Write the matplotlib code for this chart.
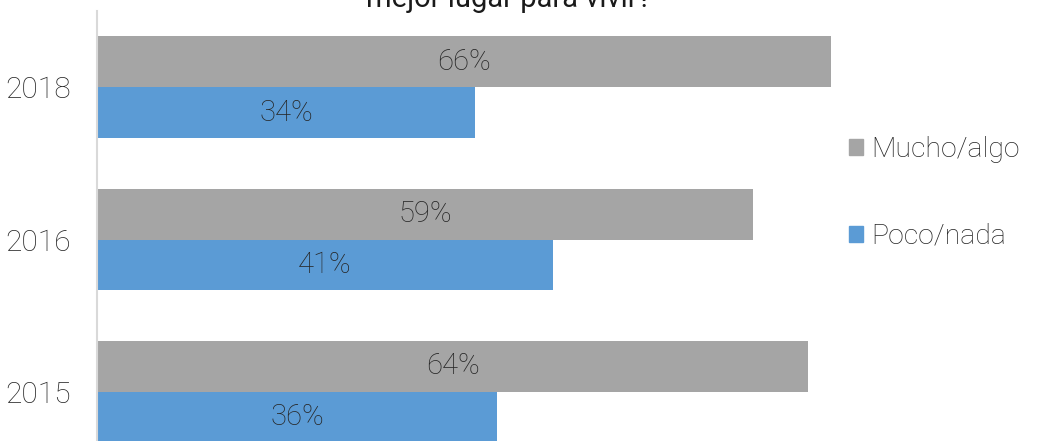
import matplotlib.pyplot as plt
from matplotlib.patches import Patch
import numpy as np

# data
years = ["2015", "2016", "2018"]
mucho_algo = [64, 59, 66]
poco_nada = [36, 41, 34]

gray = "#A5A5A5"
blue = "#5B9BD5"
txt = "#262626"

plt.rcParams['font.family'] = ['Roboto', 'DejaVu Sans']
lw = 'light'

fig = plt.figure(figsize=(10.38, 4.41), dpi=100)
# axes deliberately taller than the figure: reference is cropped top/bottom
ax = fig.add_axes([97 / 1038, 1 - 468 / 441, 778 / 1038, 457 / 441])

y = np.arange(len(years))
h = 0.333
ax.barh(y + h / 2, mucho_algo, height=h, color=gray)
ax.barh(y - h / 2, poco_nada, height=h, color=blue)

for yi, v in zip(y, mucho_algo):
    ax.text(v / 2, yi + h / 2, f"{v}%", ha='center', va='center',
            fontsize=21, color=txt, fontweight=lw)
for yi, v in zip(y, poco_nada):
    ax.text(v / 2, yi - h / 2, f"{v}%", ha='center', va='center',
            fontsize=21, color=txt, fontweight=lw)

ax.set_xlim(0, 70)
ax.set_ylim(-0.5, 2.5)
ax.set_yticks(y)
ax.set_yticklabels(years, fontsize=21.5, color=txt, fontweight=lw)
ax.tick_params(axis='y', length=0, pad=19)
ax.set_xticks([])
for s in ['top', 'right', 'bottom']:
    ax.spines[s].set_visible(False)
ax.spines['left'].set_color('#D9D9D9')
ax.spines['left'].set_linewidth(1.5)

# title is mostly cut off in the reference
fig.text(509 / 1038, 1 - 7 / 441, "mejor lugar para vivir?", ha='center',
         va='baseline', fontsize=21, color='#1a1a1a')

handles = [Patch(color=gray, label="Mucho/algo"), Patch(color=blue, label="Poco/nada")]
fig.legend(handles=handles, loc='center left', bbox_to_anchor=(823 / 1038, 1 - 193 / 441),
           frameon=False, handlelength=0.5, handleheight=0.5,
           handletextpad=0.3, labelspacing=2.1, labelcolor=txt,
           prop={'weight': lw, 'size': 20.5})

fig.savefig("out.png", dpi=100)
